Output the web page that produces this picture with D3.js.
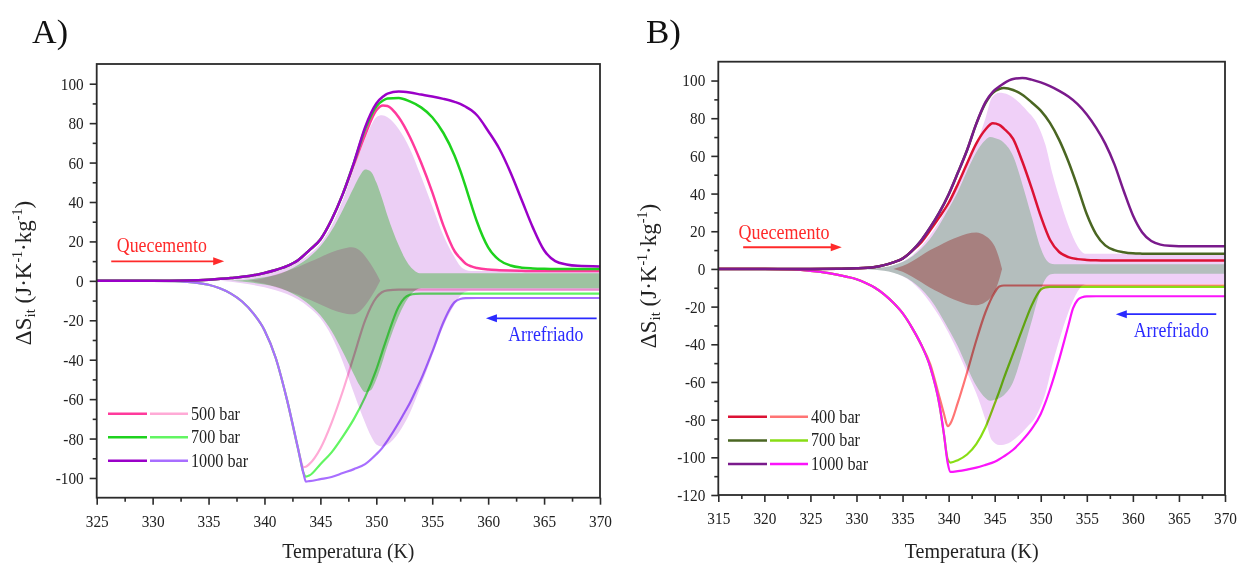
<!DOCTYPE html>
<html>
<head>
<meta charset="utf-8">
<script src="https://cdn.jsdelivr.net/npm/d3@7"></script>
<style>
  body { margin: 0; background: #fff; }
  svg { display: block; font-family: "Liberation Serif", "Times New Roman", serif; }
</style>
</head>
<body>
<svg id="chart" width="1239" height="565"></svg>
<script>
// ===================== Panel A (500 / 700 / 1000 bar) =====================
// Temperatures (K) and isothermal entropy change ΔS_it (J·K⁻¹·kg⁻¹)
const tA_heat = [325, 330, 333, 335, 337, 339, 340, 341, 342, 343, 344, 345, 346, 347, 348, 349, 350, 350.6, 351, 352, 353, 354, 355, 356, 357, 357.5, 358, 358.5, 359, 360, 361, 362, 363, 364, 365, 366, 367, 368, 370];
const sA_heat500  = [0, 0, 0.2, 0.6, 1.4, 2.8, 4, 5.5, 7.5, 10.5, 15.5, 21, 31, 44, 59, 74, 86.5, 89, 88.7, 83, 73, 60, 45, 28, 15, 11.5, 8.7, 7.3, 6.5, 5.7, 5.4, 5.2, 5.1, 5, 5, 5, 5, 5, 5];
const sA_heat700  = [0, 0, 0.2, 0.6, 1.4, 2.8, 4, 5.5, 7.5, 10.5, 15.5, 21, 31, 44, 60, 77, 88.5, 91.5, 92.5, 92.8, 91, 88, 83, 75, 63.5, 56, 47.5, 38.5, 30, 17, 10.5, 7.8, 6.7, 6.3, 6.1, 6, 6, 6, 6];
const sA_heat1000 = [0, 0, 0.2, 0.6, 1.4, 2.8, 4, 5.5, 7.5, 10.5, 15.5, 21, 31, 44, 60, 78, 90, 93.5, 95, 96, 95.5, 94.5, 93.5, 92.3, 90.8, 89.8, 88.3, 86.5, 84, 76, 67, 55, 41, 27, 15.5, 10, 8.3, 7.6, 7.3];

const tA_cool = [325, 330, 332, 333, 334, 335, 336, 337, 338, 339, 340, 341, 342, 343, 343.5, 343.7, 344, 345, 346, 347, 348, 349, 350, 350.5, 351, 352, 352.5, 353, 353.5, 354, 355, 356, 356.5, 357, 357.5, 358, 359, 370];
const sA_cool500  = [0, 0, -0.2, -0.5, -1, -2, -3.8, -6.5, -10.5, -16.5, -25, -39, -60, -85, -94.5, -94.3, -93, -85, -72, -56, -38, -20, -8.5, -5.8, -4.8, -4.5, -4.5, -4.5, -4.5, -4.5, -4.5, -4.5, -4.5, -4.5, -4.5, -4.5, -4.5, -4.5];
const sA_cool700  = [0, 0, -0.2, -0.5, -1, -2, -3.8, -6.5, -10.5, -16.5, -25, -39, -60, -85, -97.5, -99.3, -98.8, -93, -87, -79, -70, -59, -45, -36.5, -28, -13, -8.8, -7.1, -6.6, -6.5, -6.5, -6.5, -6.5, -6.5, -6.5, -6.5, -6.5, -6.5];
const sA_cool1000 = [0, 0, -0.2, -0.5, -1, -2, -3.8, -6.5, -10.5, -16.5, -25, -39, -60, -85, -98, -101.8, -101.6, -100.6, -99.5, -97.5, -95.5, -93, -88, -85, -81, -72, -67, -62, -56, -50, -36, -21, -15, -10.8, -9.2, -8.8, -8.7, -8.7];

// Reversible bands (half-height, drawn symmetric about zero)
const tA_band1000 = [336, 338, 340, 341, 342, 343, 344, 345, 346, 347, 348, 349, 349.5, 350, 350.5, 351, 352, 353, 354, 355, 356, 357, 357.5, 358, 358.5, 370];
const hA_band1000 = [0, 1.2, 3.3, 4.8, 6.7, 9.5, 13.5, 19, 28, 41, 57, 72, 78.5, 83, 84, 83, 77, 67, 53, 38, 23, 12, 7.5, 5.5, 5, 5];
const tA_band700 = [337, 339, 340, 341, 342, 343, 344, 345, 346, 347, 348, 348.5, 349, 349.5, 350, 350.5, 351, 351.5, 352, 352.5, 353, 353.5, 354, 370];
const hA_band700 = [0, 1, 1.8, 3, 5, 8, 12, 17.5, 25.5, 36, 47.5, 53, 56.5, 55.5, 50, 42, 33, 25, 18, 12, 7.5, 4.8, 3.8, 3.8];
const tA_band500 = [338.5, 340, 341, 342, 343, 344, 345, 346, 347, 347.8, 348.5, 349, 349.5, 350, 350.35];
const hA_band500 = [0, 1.5, 3.2, 5, 7, 9.5, 12, 14.5, 16.3, 17, 15.5, 12.5, 8.5, 3.8, 0];

const pressuresA = ["500 bar", "700 bar", "1000 bar"];
const xTicksA = [325, 330, 335, 340, 345, 350, 355, 360, 365, 370];
const yTicksA = [-100, -80, -60, -40, -20, 0, 20, 40, 60, 80, 100];

// ===================== Panel B (400 / 700 / 1000 bar) =====================
const tB_heat = [315, 325, 328, 330, 332, 333, 334, 335, 336, 337, 338, 339, 340, 341, 342, 343, 344, 344.8, 345.5, 346, 347, 348, 349, 350, 351, 352, 353, 354, 355, 356, 357, 358, 359, 360, 361, 362, 363, 364, 366, 370];
const sB_heat400  = [0, 0, 0.1, 0.3, 1, 2, 3.5, 5.5, 9.5, 14, 20.5, 27.5, 35, 45, 56, 66.5, 74, 77.3, 76.5, 74.5, 69, 57, 43, 28, 15.5, 9, 6.3, 5.2, 4.8, 4.6, 4.5, 4.5, 4.5, 4.5, 4.5, 4.5, 4.5, 4.5, 4.5, 4.5];
const sB_heat700  = [0, 0, 0.1, 0.3, 1, 2, 3.5, 5.5, 9.5, 15, 22, 30, 39.5, 51, 63, 77, 88, 93.5, 95.5, 96, 95, 92.5, 88.5, 84, 77.5, 68.5, 57, 43.5, 29, 18.5, 12.5, 10, 8.9, 8.3, 8.1, 8, 8, 8, 8, 8];
const sB_heat1000 = [0, 0, 0.1, 0.3, 1, 2, 3.5, 5.5, 9.5, 15, 22, 30, 39.5, 51, 63, 77, 88.5, 94, 96.8, 98.5, 100.8, 101.3, 100.5, 99, 97, 94.5, 91.5, 87.5, 82, 75, 66.5, 55.5, 41.5, 28.5, 19.5, 14.8, 12.9, 12.3, 12, 12];

const tB_cool = [315, 320, 323, 325, 327, 329, 330, 331, 332, 333, 334, 335, 336, 337, 338, 339, 339.5, 339.9, 340.2, 341, 342, 343, 344, 345, 345.5, 346, 347, 348, 349, 350, 350.5, 351, 352, 353, 353.5, 354, 354.5, 355, 356, 370];
const sB_cool400  = [0, 0, -0.3, -1, -2.2, -4.2, -5.5, -7.5, -10, -13.5, -18, -23.5, -31, -40, -50.5, -68, -77, -83.5, -82, -71, -55, -38, -23, -12.5, -9.3, -8.8, -8.8, -8.8, -8.8, -8.8, -8.8, -8.8, -8.8, -8.8, -8.8, -8.8, -8.8, -8.8, -8.8, -8.8];
const sB_cool700  = [0, 0, -0.3, -1, -2.2, -4.2, -5.5, -7.5, -10, -13.5, -18, -23.5, -31, -40, -52, -72, -88, -101, -102.8, -101.5, -98.5, -93, -84, -71.5, -65, -58, -45, -32, -19.5, -11, -9.8, -9.5, -9.5, -9.5, -9.5, -9.5, -9.5, -9.5, -9.5, -9.5];
const sB_cool1000 = [0, 0, -0.3, -1, -2.2, -4.2, -5.5, -7.5, -10, -13.5, -18, -23.5, -31, -40, -52, -72, -88, -103, -107.7, -107.3, -106.5, -105.5, -104, -102.3, -101, -99.5, -96, -91, -85, -77, -71, -64, -48, -30, -21, -16.5, -15, -14.6, -14.5, -14.5];

const tB_band1000 = [330, 332, 334, 336, 338, 340, 341, 342, 343, 344, 344.7, 345.5, 346.5, 347.5, 348.5, 349.5, 350.5, 351.3, 352, 353, 354, 354.6, 355, 370];
const hB_band1000 = [0, 0.5, 2, 7, 18, 34, 44, 55, 66, 80, 91, 93.5, 92.5, 89, 84, 78, 66, 50, 38, 23, 12, 8.5, 8, 8];
const tB_band700 = [330, 332, 334, 336, 338, 340, 341, 342, 343, 344, 344.5, 345, 346, 347, 348, 349, 350, 350.5, 351, 351.5, 370];
const hB_band700 = [0, 0.5, 2, 6.5, 16, 32, 41, 52, 62, 68.5, 70, 69.5, 67, 60, 45, 28, 11, 5.5, 3, 2.5, 2.5];
const tB_band400 = [334, 335, 336, 337, 338, 339, 340, 341, 342, 343, 343.5, 344, 344.5, 345, 345.4, 345.8];
const hB_band400 = [0, 1.5, 4, 7, 10, 12.5, 15, 17, 18.7, 19.3, 18.8, 17.5, 15.5, 12, 7, 0];

const pressuresB = ["400 bar", "700 bar", "1000 bar"];
const xTicksB = [315, 320, 325, 330, 335, 340, 345, 350, 355, 360, 365, 370];
const yTicksB = [-120, -100, -80, -60, -40, -20, 0, 20, 40, 60, 80, 100];

// ===================== Drawing =====================
const svg = d3.select("#chart");
const AXIS = "#2b2b2b";
const SX = 0.9; // horizontal squeeze of the serif lettering

function toPts(t, v) { return t.map((d, i) => [d, v[i]]); }

function drawPanel(cfg) {
  const g = svg.append("g");
  const x = d3.scaleLinear().domain(cfg.xDomain).range(cfg.xRange);
  const y = d3.scaleLinear().domain(cfg.yDomain).range(cfg.yRange);
  const curve = d3.curveMonotoneX;
  const line = d3.line().x(d => x(d[0])).y(d => y(d[1])).curve(curve);

  // cooling runs first, so the translucent bands tint them where they overlap
  cfg.cooling.forEach(c => {
    g.append("path").datum(toPts(c.t, c.v)).attr("d", line)
      .attr("fill", "none").attr("stroke", c.color).attr("stroke-width", 2.2);
  });

  // symmetric reversible bands, multiplied over each other
  const area = d3.area().x(d => x(d[0])).y0(d => y(-d[1])).y1(d => y(d[1])).curve(curve);
  cfg.bands.forEach(b => {
    g.append("path").datum(toPts(b.t, b.h)).attr("d", area)
      .attr("fill", b.color).style("mix-blend-mode", "multiply");
  });

  cfg.heating.forEach(c => {
    g.append("path").datum(toPts(c.t, c.v)).attr("d", line)
      .attr("fill", "none").attr("stroke", c.color).attr("stroke-width", 2.5);
  });

  // axes
  const [x0, x1] = cfg.xRange, [yb, yt] = cfg.yRange;
  const minorX = d3.range(cfg.xDomain[0] + 2.5, cfg.xDomain[1], 5);
  const minorY = d3.range(Math.ceil(cfg.yDomain[0] / 10) * 10, cfg.yDomain[1], 10)
    .filter(v => Math.abs(v % 20) === 10 && v > cfg.yDomain[0] && v < cfg.yDomain[1]);

  const ax = g.append("g").attr("transform", `translate(0,${yb})`)
    .call(d3.axisBottom(x).tickValues(cfg.xTicks).tickSize(7).tickPadding(10).tickSizeOuter(0).tickFormat(d => String(d)));
  g.append("g").attr("transform", `translate(0,${yb})`)
    .call(d3.axisBottom(x).tickValues(minorX).tickSize(4).tickSizeOuter(0).tickFormat(""));
  const ay = g.append("g").attr("transform", `translate(${x0},0)`)
    .call(d3.axisLeft(y).tickValues(cfg.yTicks).tickSize(7).tickPadding(6).tickSizeOuter(0).tickFormat(d => String(d)));
  g.append("g").attr("transform", `translate(${x0},0)`)
    .call(d3.axisLeft(y).tickValues(minorY).tickSize(4).tickSizeOuter(0).tickFormat(""));

  g.selectAll(".domain").remove();
  g.selectAll(".tick line").attr("stroke", AXIS).attr("stroke-width", 1.6);
  [ax, ay].forEach(a => a.selectAll("text")
    .attr("fill", "#222").attr("font-size", 17)
    .attr("font-family", "Liberation Serif, Times New Roman, serif")
    .each(function () {
      const t = d3.select(this);
      const tx = +t.attr("x") || 0;
      t.attr("x", 0).attr("transform", `translate(${tx},0) scale(${SX},1)`);
    }));

  g.append("rect").attr("x", x0).attr("y", yt).attr("width", x1 - x0).attr("height", yb - yt)
    .attr("fill", "none").attr("stroke", AXIS).attr("stroke-width", 1.8);

  // legend: heating line, cooling line, label
  cfg.legend.labels.forEach((lab, i) => {
    const ly = cfg.legend.y + i * cfg.legend.dy;
    const lx = cfg.legend.x;
    g.append("line").attr("x1", lx).attr("x2", lx + 39).attr("y1", ly).attr("y2", ly)
      .attr("stroke", cfg.heating[i].color).attr("stroke-width", 2.5);
    g.append("line").attr("x1", lx + 42).attr("x2", lx + 80).attr("y1", ly).attr("y2", ly)
      .attr("stroke", cfg.cooling[i].color).attr("stroke-width", 2.5);
    g.append("text").attr("transform", `translate(${lx + 83},${ly + 6}) scale(${SX},1)`)
      .attr("font-size", 18).attr("fill", "#222").text(lab);
  });

  // direction annotations
  cfg.notes.forEach(n => {
    g.append("text").attr("x", x(n.tx)).attr("y", y(n.ty))
      .attr("font-size", 20).attr("fill", n.color)
      .attr("textLength", n.w).attr("lengthAdjust", "spacingAndGlyphs").text(n.text);
    const xa = x(n.from), xb = x(n.to), ya = y(n.ay);
    const dir = Math.sign(xb - xa);
    g.append("line").attr("x1", xa).attr("x2", xb - dir * 8).attr("y1", ya).attr("y2", ya)
      .attr("stroke", n.color).attr("stroke-width", 1.8);
    g.append("path").attr("d", `M${xb},${ya} L${xb - dir * 11},${ya - 4} L${xb - dir * 11},${ya + 4} Z`)
      .attr("fill", n.color);
  });

  // axis titles and panel tag
  const xc = (x0 + x1) / 2;
  g.append("text").attr("x", xc).attr("y", 558).attr("text-anchor", "middle")
    .attr("font-size", 21).attr("fill", "#222")
    .attr("textLength", cfg.xTitleW).attr("lengthAdjust", "spacingAndGlyphs").text("Temperatura (K)");

  const yt_ = g.append("text").attr("transform", `translate(${cfg.yTitleX},${cfg.yTitleY}) rotate(-90)`)
    .attr("text-anchor", "middle").attr("font-size", 23).attr("fill", "#222");
  yt_.append("tspan").text("ΔS");
  yt_.append("tspan").attr("dy", 4).attr("font-size", 15).text("it");
  yt_.append("tspan").attr("dy", -4).text(" (J·K");
  yt_.append("tspan").attr("dy", -9).attr("font-size", 14).text("-1");
  yt_.append("tspan").attr("dy", 9).text("·kg");
  yt_.append("tspan").attr("dy", -9).attr("font-size", 14).text("-1");
  yt_.append("tspan").attr("dy", 9).text(")");

  g.append("text").attr("x", cfg.tag.x).attr("y", cfg.tag.y).attr("font-size", 33)
    .attr("fill", "#111").attr("textLength", cfg.tag.w).attr("lengthAdjust", "spacingAndGlyphs")
    .text(cfg.tag.text);
}

drawPanel({
  xDomain: [325, 370], xRange: [96.7, 600],
  yDomain: [-110, 110], yRange: [497.7, 64],
  xTicks: xTicksA, yTicks: yTicksA,
  bands: [
    { t: tA_band1000, h: hA_band1000, color: "#eccff5" },
    { t: tA_band700, h: hA_band700, color: "#aaf0a7" },
    { t: tA_band500, h: hA_band500, color: "#fccbec" }
  ],
  heating: [
    { t: tA_heat, v: sA_heat500, color: "#ff3a9c" },
    { t: tA_heat, v: sA_heat700, color: "#1ed21e" },
    { t: tA_heat, v: sA_heat1000, color: "#9a00c8" }
  ],
  cooling: [
    { t: tA_cool, v: sA_cool500, color: "#ffaad6" },
    { t: tA_cool, v: sA_cool700, color: "#62f562" },
    { t: tA_cool, v: sA_cool1000, color: "#a86eff" }
  ],
  legend: { labels: pressuresA, x: 108, y: 413.7, dy: 23.5 },
  notes: [
    { text: "Quecemento", tx: 326.8, ty: 14.5, w: 90, color: "#ff2a2a", from: 326.3, to: 336.4, ay: 9.9 },
    { text: "Arrefriado", tx: 361.8, ty: -30.4, w: 75, color: "#2a2aff", from: 369.7, to: 359.8, ay: -19 }
  ],
  xTitleW: 132, yTitleX: 31, yTitleY: 273,
  tag: { text: "A)", x: 32, y: 43, w: 36 }
});

drawPanel({
  xDomain: [315, 370], xRange: [718.3, 1225],
  yDomain: [-120, 110], yRange: [495, 61.7],
  xTicks: xTicksB, yTicks: yTicksB,
  bands: [
    { t: tB_band1000, h: hB_band1000, color: "#f0d0f8" },
    { t: tB_band700, h: hB_band700, color: "#bfe9c3" },
    { t: tB_band400, h: hB_band400, color: "#edacac" }
  ],
  heating: [
    { t: tB_heat, v: sB_heat400, color: "#dc1234" },
    { t: tB_heat, v: sB_heat700, color: "#4a6622" },
    { t: tB_heat, v: sB_heat1000, color: "#7a1a8c" }
  ],
  cooling: [
    { t: tB_cool, v: sB_cool400, color: "#ff7474" },
    { t: tB_cool, v: sB_cool700, color: "#88dd14" },
    { t: tB_cool, v: sB_cool1000, color: "#fb14fb" }
  ],
  legend: { labels: pressuresB, x: 728, y: 416.7, dy: 23.7 },
  notes: [
    { text: "Quecemento", tx: 317.2, ty: 15.8, w: 91, color: "#ff2a2a", from: 317.7, to: 328.4, ay: 11.5 },
    { text: "Arrefriado", tx: 360.1, ty: -35.9, w: 75, color: "#2a2aff", from: 369.05, to: 358.15, ay: -24 }
  ],
  xTitleW: 134, yTitleX: 656, yTitleY: 276,
  tag: { text: "B)", x: 646, y: 43, w: 35 }
});
</script>
</body>
</html>
